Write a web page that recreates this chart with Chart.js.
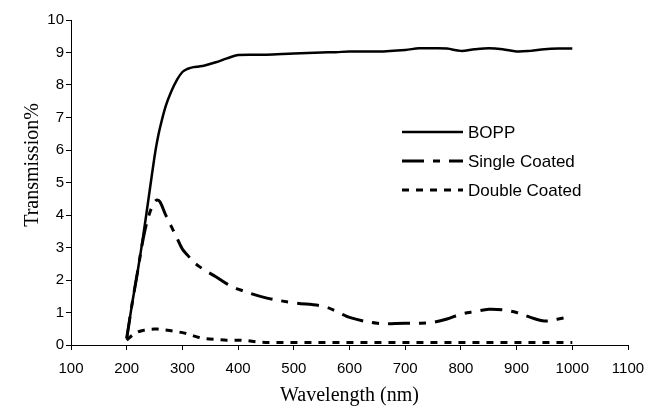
<!DOCTYPE html>
<html>
<head>
<meta charset="utf-8">
<script src="https://cdn.jsdelivr.net/npm/chart.js@4.4.0/dist/chart.umd.min.js"></script>
<style>
  body { margin: 0; background: #fff; }
  #wrap { width: 660px; height: 408px; }
</style>
</head>
<body>
<div id="wrap"><canvas id="myChart" width="660" height="408"></canvas></div>
<script>
// wavelength (nm) shared by all three curves
const wavelengths = [200, 210, 220, 230, 240, 250, 255, 260, 270, 280, 290, 300, 310, 320, 330, 340, 360, 380, 400,
  450, 500, 550, 575, 600, 650, 700, 725, 750, 775, 800, 825, 850, 875, 900, 925, 950, 975, 1000];

const bopp = [0.2, 1.3, 2.3, 3.4, 4.6, 5.8, 6.3, 6.7, 7.35, 7.8, 8.15, 8.4, 8.5, 8.55, 8.57, 8.6, 8.7, 8.82, 8.92,
  8.93, 8.97, 9.0, 9.01, 9.03, 9.03, 9.08, 9.13, 9.13, 9.12, 9.05, 9.1, 9.13, 9.1, 9.03, 9.05, 9.1, 9.12, 9.12];

const singleCoated = [0.2, 1.3, 2.3, 3.3, 4.0, 4.4, 4.46, 4.4, 4.0, 3.65, 3.3, 2.95, 2.75, 2.55, 2.42, 2.3, 2.1, 1.88, 1.72,
  1.45, 1.3, 1.2, 1.05, 0.85, 0.67, 0.67, 0.67, 0.7, 0.8, 0.95, 1.03, 1.1, 1.08, 1.0, 0.85, 0.74, 0.8, 0.88];

const doubleCoated = [0.15, 0.3, 0.4, 0.45, 0.48, 0.49, 0.49, 0.48, 0.46, 0.44, 0.41, 0.38, 0.34, 0.28, 0.23, 0.2, 0.17, 0.15, 0.15,
  0.08, 0.08, 0.08, 0.08, 0.08, 0.08, 0.08, 0.08, 0.08, 0.08, 0.08, 0.08, 0.08, 0.08, 0.08, 0.08, 0.08, 0.08, 0.08];

const seriesNames = ["BOPP", "Single Coated", "Double Coated"];

const toPoints = (values) => wavelengths.map((w, i) => ({ x: w, y: values[i] }));

// legend drawn inside the plot, line sample followed by the label
const insideLegend = {
  id: "insideLegend",
  afterDraw(chart) {
    const ctx = chart.ctx;
    const x0 = 402, x1 = 463, rows = [132, 161, 190];
    ctx.save();
    chart.data.datasets.forEach((ds, i) => {
      const y = rows[i];
      ctx.strokeStyle = "#000";
      ctx.lineWidth = ds.borderWidth;
      ctx.lineCap = "butt";
      ctx.setLineDash(ds.borderDash || []);
      ctx.beginPath();
      ctx.moveTo(x0, y);
      ctx.lineTo(x1, y);
      ctx.stroke();
      ctx.setLineDash([]);
      ctx.fillStyle = "#000";
      ctx.font = "17px 'Liberation Sans', Arial, sans-serif";
      ctx.textBaseline = "middle";
      ctx.fillText(ds.label, x1 + 5, y + 1);
    });
    ctx.restore();
  }
};

const ctx = document.getElementById("myChart").getContext("2d");
const myChart = new Chart(ctx, {
  type: "line",
  data: {
    datasets: [
      {
        label: seriesNames[0],
        data: toPoints(bopp),
        borderColor: "#000",
        borderWidth: 2.5,
        pointRadius: 0,
        tension: 0.35,
      },
      {
        label: seriesNames[1],
        data: toPoints(singleCoated),
        borderColor: "#000",
        borderWidth: 3,
        borderDash: [22, 9, 7, 9],
        pointRadius: 0,
        tension: 0.35,
      },
      {
        label: seriesNames[2],
        data: toPoints(doubleCoated),
        borderColor: "#000",
        borderWidth: 3,
        borderDash: [7, 7],
        pointRadius: 0,
        cubicInterpolationMode: "monotone",
      },
    ],
  },
  options: {
    responsive: false,
    animation: false,
    devicePixelRatio: 1,
    layout: { padding: { top: 20, right: 32, left: 0, bottom: 0 } },
    plugins: {
      legend: { display: false },
      tooltip: { enabled: false },
    },
    scales: {
      x: {
        type: "linear",
        min: 100,
        max: 1100,
        afterFit: (s) => { s.height = 63; },
        ticks: {
          stepSize: 100,
          color: "#000",
          padding: 10,
          maxRotation: 0,
          callback: (v) => String(v),
          font: { family: "'Liberation Sans', Arial, sans-serif", size: 15 },
        },
        grid: { drawOnChartArea: false, drawTicks: true, tickLength: 5, color: "#000" },
        border: { display: true, color: "#000", width: 1 },
        title: {
          display: true,
          text: "Wavelength (nm)",
          color: "#000",
          padding: { top: 0, bottom: 0 },
          font: { family: "'Liberation Serif', 'Times New Roman', serif", size: 20 },
        },
      },
      y: {
        min: 0,
        max: 10,
        afterFit: (s) => { s.width = 71; },
        ticks: {
          stepSize: 1,
          color: "#000",
          padding: 2,
          font: { family: "'Liberation Sans', Arial, sans-serif", size: 15 },
        },
        grid: { drawOnChartArea: false, drawTicks: true, tickLength: 5, color: "#000" },
        border: { display: true, color: "#000", width: 1 },
        title: {
          display: true,
          // leading spaces lift the rotated text a little, as in the original
          text: "       Transmission%",
          color: "#000",
          padding: { top: 21, bottom: 0 },
          font: { family: "'Liberation Serif', 'Times New Roman', serif", size: 20 },
        },
      },
    },
  },
  plugins: [insideLegend],
});
</script>
</body>
</html>
